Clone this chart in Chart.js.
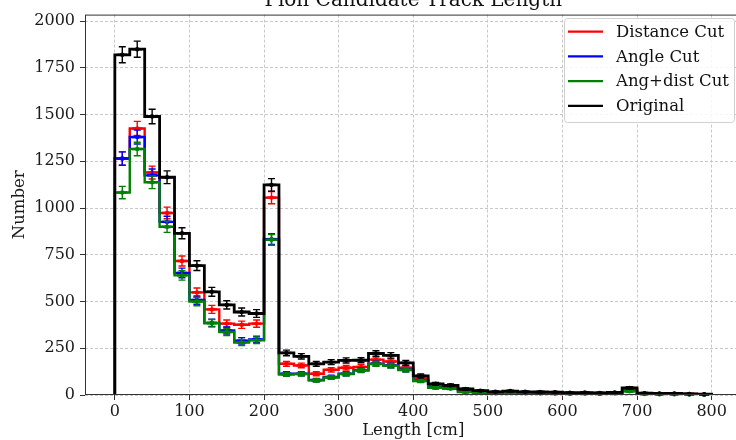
<!DOCTYPE html>
<html>
<head>
<meta charset="utf-8">
<script src="https://cdn.jsdelivr.net/npm/chart.js@4.4.0/dist/chart.umd.min.js"></script>
<style>
html,body{margin:0;padding:0;overflow:hidden;background:#fff;width:736px;height:440px}
canvas{display:block}
</style>
</head>
<body>
<canvas id="c" width="760" height="440"></canvas>
<script>
// ---- data ----
const binEdges = [0,20,40,60,80,100,120,140,160,180,200,220,240,260,280,300,320,340,360,380,400,
                  420,440,460,480,500,520,540,560,580,600,620,640,660,680,700,720,740,760,780,800];
const original    = [1820,1850,1490,1165,865,692,552,482,444,436,1124,225,207,167,176,185,186,222,212,172,
                     102,60,52,32,23,17,21,17,16,15,12,13,11,14,38,10,8,8,6,4];
const distanceCut = [1265,1426,1190,974,717,549,458,382,376,382,1056,167,158,114,135,146,150,189,179,146,
                     88,52,46,24,18,14,17,14,13,12,10,11,9,12,30,8,7,7,5,3];
const angleCut    = [1265,1380,1175,926,653,508,386,345,290,297,834,114,114,80,96,114,133,168,158,136,
                     76,40,36,17,13,11,14,11,10,9,8,9,7,10,22,6,5,5,4,3];
const angDistCut  = [1083,1316,1138,900,640,500,384,337,281,293,830,110,112,78,94,112,131,166,156,134,
                     75,39,35,16,12,10,13,10,9,8,7,8,6,9,20,5,4,4,3,2];
const seriesLabels = ['Distance Cut','Angle Cut','Ang+dist Cut','Original'];
const xTicks = [0,100,200,300,400,500,600,700,800];
const yTicks = [0,250,500,750,1000,1250,1500,1750,2000];
const titleText = 'Pion Candidate Track Length';
const xTitle = 'Length [cm]';
const yTitle = 'Number';

// ---- styling ----
const FONT = '"DejaVu Serif", serif';
const colors = ['#ff0000','#0000ff','#008000','#000000'];
const allSeries = [distanceCut, angleCut, angDistCut, original];

function stepPoints(vals){
  const pts = [{x: binEdges[0], y: 0}];
  vals.forEach((v,i)=>{ pts.push({x: binEdges[i], y: v}); pts.push({x: binEdges[i+1], y: v}); });
  pts.push({x: binEdges[vals.length], y: 0});
  return pts;
}

// dataset index 0 is drawn last (on top) -> reverse so Original is on top
const datasets = [3,2,1,0].map(k => ({
  label: seriesLabels[k],
  data: stepPoints(allSeries[k]),
  binValues: allSeries[k],
  borderColor: colors[k],
  backgroundColor: colors[k],
  borderWidth: k === 3 ? 2.8 : 2.4,
  pointRadius: 0,
  tension: 0,
  fill: false
}));

const errorBars = {
  id: 'errorBars',
  afterDatasetDraw(chart, args){
    const ds = chart.data.datasets[args.index];
    const xs = chart.scales.x, ys = chart.scales.y, ctx = chart.ctx;
    ctx.save();
    ctx.strokeStyle = ds.borderColor; ctx.fillStyle = ds.borderColor;
    ds.binValues.forEach((v,j)=>{
      if (v <= 0) return;
      const c = (binEdges[j] + binEdges[j+1]) / 2;
      const e = Math.sqrt(v);
      const px = xs.getPixelForValue(c);
      const py = ys.getPixelForValue(v);
      const pt = ys.getPixelForValue(v + e);
      const pb = ys.getPixelForValue(Math.max(v - e, 0));
      ctx.lineWidth = 1.4;
      ctx.beginPath();
      ctx.moveTo(px, pt); ctx.lineTo(px, pb);
      ctx.moveTo(px-3.5, pt); ctx.lineTo(px+3.5, pt);
      ctx.moveTo(px-3.5, pb); ctx.lineTo(px+3.5, pb);
      ctx.stroke();
      ctx.lineWidth = 2.4;
      ctx.beginPath(); ctx.moveTo(px-5, py); ctx.lineTo(px+5, py); ctx.stroke();
      ctx.beginPath(); ctx.arc(px, py, 2.2, 0, Math.PI*2); ctx.fill();
    });
    ctx.restore();
  }
};

const decorations = {
  id: 'decorations',
  afterDraw(chart){
    const ctx = chart.ctx, a = chart.chartArea;
    ctx.save();
    // spines
    ctx.strokeStyle = '#333'; ctx.lineWidth = 1;
    ctx.strokeRect(a.left+0.5, a.top+0.5, a.right-a.left-1, a.bottom-a.top-1);
    // title (cut off at top as in reference)
    ctx.fillStyle = '#111';
    ctx.font = '20px ' + FONT;
    ctx.textAlign = 'center'; ctx.textBaseline = 'alphabetic';
    ctx.fillText(titleText, (a.left + a.right)/2, 5.5);
    // legend
    const lx = 564, ly = 18, lw = 170, lh = 104;
    ctx.fillStyle = 'rgba(255,255,255,0.85)';
    ctx.strokeStyle = '#d0d0d0'; ctx.lineWidth = 1;
    ctx.beginPath();
    if (ctx.roundRect) ctx.roundRect(lx+0.5, ly+0.5, lw, lh, 3); else ctx.rect(lx+0.5, ly+0.5, lw, lh);
    ctx.fill(); ctx.stroke();
    ctx.font = '16.5px ' + FONT;
    ctx.textAlign = 'left'; ctx.textBaseline = 'middle';
    seriesLabels.forEach((lab,i)=>{
      const yy = 31.7 + i*24.7;
      ctx.strokeStyle = colors[i]; ctx.lineWidth = 2.2;
      ctx.beginPath(); ctx.moveTo(568, yy); ctx.lineTo(603, yy); ctx.stroke();
      ctx.fillStyle = '#111';
      ctx.fillText(lab, 616, yy + 1);
    });
    ctx.restore();
  }
};

new Chart(document.getElementById('c'), {
  type: 'line',
  data: { datasets },
  options: {
    responsive: false,
    animation: false,
    devicePixelRatio: 1,
    layout: { padding: { left: 0, right: 18.5, top: 9, bottom: 0 } },
    plugins: { legend: { display: false }, tooltip: { enabled: false } },
    scales: {
      x: {
        type: 'linear', min: -40, max: 840,
        afterBuildTicks: s => { s.ticks = xTicks.map(v => ({ value: v })); },
        afterFit: s => { s.height = 45; },
        ticks: { font: { family: FONT, size: 16 }, color: '#1a1a1a', padding: 2, maxRotation: 0, autoSkip: false,
                 callback: v => String(v) },
        grid: { color: '#c2c2c2', lineWidth: 0.9, tickLength: 5, tickColor: '#333', tickWidth: 1, tickBorderDash: [] },
        border: { display: false, dash: [3, 2] },
        title: { display: true, text: xTitle, font: { family: FONT, size: 16.5, lineHeight: 1.1 }, color: '#1a1a1a', padding: { top: 0, bottom: 0 } }
      },
      y: {
        type: 'linear', min: 0, max: 2035,
        afterBuildTicks: s => { s.ticks = yTicks.map(v => ({ value: v })); },
        afterFit: s => { s.width = 85; },
        ticks: { font: { family: FONT, size: 16 }, color: '#1a1a1a', padding: 5, autoSkip: false,
                 callback: v => String(v) },
        grid: { color: '#c2c2c2', lineWidth: 0.9, tickLength: 5, tickColor: '#333', tickWidth: 1, tickBorderDash: [] },
        border: { display: false, dash: [3, 2] },
        title: { display: true, text: yTitle, font: { family: FONT, size: 16.5, lineHeight: 1.2 }, color: '#1a1a1a', padding: { top: 10, bottom: 0 } }
      }
    }
  },
  plugins: [errorBars, decorations]
});
</script>
</body>
</html>
